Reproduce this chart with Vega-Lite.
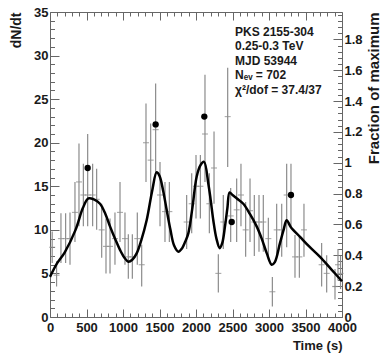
{
  "$schema": "https://vega.github.io/schema/vega-lite/v6.json",
  "width": 292,
  "height": 305,
  "autosize": "none",
  "padding": {"left": 50, "top": 12, "right": 40, "bottom": 39},
  "background": "white",
  "config": {
    "view": {"stroke": null},
    "axis": {
      "labelFont": "Liberation Sans", "labelFontWeight": "bold", "labelFontSize": 13, "labelColor": "#1a1a1a",
      "titleFont": "Liberation Sans", "titleFontWeight": "bold", "titleFontSize": 13, "titleColor": "#1a1a1a",
      "domainColor": "#666", "tickColor": "#666", "grid": false, "labelOverlap": false, "labelFlush": false
    }
  },
  "datasets": {
    "bins": [
      {"t": 30, "v": 8.0, "lo": 6.2, "hi": 9.8},
      {"t": 90, "v": 4.8, "lo": 3.5, "hi": 6.4},
      {"t": 150, "v": 9.0, "lo": 6.2, "hi": 11.9},
      {"t": 214, "v": 9.0, "lo": 6.2, "hi": 11.9},
      {"t": 274, "v": 9.0, "lo": 6.0, "hi": 12.0},
      {"t": 342, "v": 12.0, "lo": 8.6, "hi": 15.5},
      {"t": 397, "v": 15.5, "lo": 10.4, "hi": 19.9},
      {"t": 457, "v": 14.0, "lo": 10.4, "hi": 17.6},
      {"t": 516, "v": 14.0, "lo": 10.4, "hi": 21.0},
      {"t": 584, "v": 14.0, "lo": 10.4, "hi": 17.6},
      {"t": 639, "v": 13.5, "lo": 10.0, "hi": 17.0},
      {"t": 708, "v": 10.0, "lo": 6.8, "hi": 13.0},
      {"t": 767, "v": 8.1, "lo": 5.0, "hi": 11.3},
      {"t": 822, "v": 8.1, "lo": 5.0, "hi": 11.3},
      {"t": 890, "v": 9.0, "lo": 6.0, "hi": 12.0},
      {"t": 959, "v": 12.0, "lo": 8.6, "hi": 15.5},
      {"t": 1027, "v": 9.0, "lo": 6.0, "hi": 12.0},
      {"t": 1073, "v": 6.9, "lo": 4.4, "hi": 9.5},
      {"t": 1128, "v": 6.9, "lo": 4.4, "hi": 9.5},
      {"t": 1196, "v": 9.0, "lo": 6.0, "hi": 12.0},
      {"t": 1256, "v": 6.0, "lo": 3.5, "hi": 8.3},
      {"t": 1315, "v": 20.0, "lo": 15.5, "hi": 24.5},
      {"t": 1379, "v": 18.0, "lo": 13.5, "hi": 22.2},
      {"t": 1447, "v": 21.5, "lo": 16.5, "hi": 26.8},
      {"t": 1507, "v": 14.0, "lo": 10.4, "hi": 17.8},
      {"t": 1575, "v": 12.1, "lo": 8.6, "hi": 15.5},
      {"t": 1635, "v": 12.1, "lo": 8.6, "hi": 15.5},
      {"t": 1872, "v": 10.9, "lo": 7.8, "hi": 14.0},
      {"t": 1941, "v": 13.0, "lo": 9.6, "hi": 16.5},
      {"t": 2000, "v": 15.0, "lo": 11.3, "hi": 18.6},
      {"t": 2060, "v": 15.0, "lo": 11.3, "hi": 18.6},
      {"t": 2123, "v": 21.0, "lo": 15.5, "hi": 27.8},
      {"t": 2183, "v": 13.0, "lo": 9.6, "hi": 16.5},
      {"t": 2247, "v": 17.1, "lo": 13.0, "hi": 21.3},
      {"t": 2306, "v": 5.0, "lo": 2.8, "hi": 7.2},
      {"t": 2374, "v": 10.9, "lo": 7.8, "hi": 14.0},
      {"t": 2434, "v": 23.0, "lo": 17.2, "hi": 28.6},
      {"t": 2475, "v": 11.6, "lo": 8.6, "hi": 14.8},
      {"t": 2557, "v": 12.3, "lo": 8.6, "hi": 15.9},
      {"t": 2616, "v": 14.0, "lo": 10.4, "hi": 17.6},
      {"t": 2680, "v": 10.0, "lo": 6.9, "hi": 13.2},
      {"t": 2740, "v": 12.2, "lo": 8.6, "hi": 15.9},
      {"t": 2799, "v": 10.9, "lo": 7.0, "hi": 14.0},
      {"t": 2863, "v": 10.9, "lo": 7.5, "hi": 14.0},
      {"t": 2922, "v": 10.9, "lo": 7.5, "hi": 14.0},
      {"t": 2991, "v": 9.0, "lo": 6.6, "hi": 11.4},
      {"t": 3046, "v": 2.9, "lo": 1.2, "hi": 4.6},
      {"t": 3105, "v": 10.0, "lo": 6.9, "hi": 13.0},
      {"t": 3174, "v": 10.0, "lo": 6.9, "hi": 13.0},
      {"t": 3242, "v": 14.0, "lo": 8.0, "hi": 17.6},
      {"t": 3301, "v": 14.0, "lo": 10.4, "hi": 17.6},
      {"t": 3356, "v": 6.9, "lo": 4.5, "hi": 9.4},
      {"t": 3416, "v": 6.9, "lo": 4.5, "hi": 9.4},
      {"t": 3479, "v": 10.0, "lo": 6.9, "hi": 13.0},
      {"t": 3721, "v": 6.0, "lo": 3.5, "hi": 8.5},
      {"t": 3790, "v": 5.0, "lo": 2.8, "hi": 7.1},
      {"t": 3904, "v": 3.5, "lo": 2.0, "hi": 5.5},
      {"t": 3945, "v": 6.0, "lo": 4.2, "hi": 7.8},
      {"t": 3980, "v": 5.0, "lo": 3.2, "hi": 7.0}
    ],
    "curve": [
      {"t": 0, "v": 4.6}, {"t": 100, "v": 6.2}, {"t": 200, "v": 7.4}, {"t": 350, "v": 10.0},
      {"t": 450, "v": 12.5}, {"t": 525, "v": 13.6}, {"t": 600, "v": 13.5}, {"t": 685, "v": 13.0},
      {"t": 760, "v": 11.8}, {"t": 822, "v": 10.4}, {"t": 900, "v": 8.8}, {"t": 959, "v": 7.7},
      {"t": 1020, "v": 6.8}, {"t": 1073, "v": 6.35}, {"t": 1130, "v": 6.6}, {"t": 1187, "v": 7.3},
      {"t": 1250, "v": 8.8}, {"t": 1324, "v": 11.1}, {"t": 1400, "v": 14.5}, {"t": 1461, "v": 16.6},
      {"t": 1500, "v": 16.2}, {"t": 1550, "v": 14.5}, {"t": 1598, "v": 12.3}, {"t": 1650, "v": 10.0},
      {"t": 1700, "v": 8.2}, {"t": 1758, "v": 7.5}, {"t": 1810, "v": 7.9}, {"t": 1850, "v": 8.6},
      {"t": 1895, "v": 9.6}, {"t": 1950, "v": 12.5}, {"t": 2009, "v": 16.1}, {"t": 2060, "v": 17.4},
      {"t": 2110, "v": 17.8}, {"t": 2169, "v": 15.3}, {"t": 2200, "v": 13.5}, {"t": 2237, "v": 11.1},
      {"t": 2280, "v": 9.0}, {"t": 2325, "v": 7.9}, {"t": 2360, "v": 8.5}, {"t": 2397, "v": 10.4},
      {"t": 2430, "v": 12.5}, {"t": 2460, "v": 14.3}, {"t": 2500, "v": 14.0}, {"t": 2560, "v": 13.6},
      {"t": 2648, "v": 13.0}, {"t": 2740, "v": 11.8}, {"t": 2831, "v": 10.4}, {"t": 2900, "v": 9.0},
      {"t": 2970, "v": 7.3}, {"t": 3037, "v": 6.0}, {"t": 3080, "v": 6.3}, {"t": 3151, "v": 8.5},
      {"t": 3200, "v": 10.0}, {"t": 3242, "v": 11.1}, {"t": 3300, "v": 10.3}, {"t": 3425, "v": 9.2},
      {"t": 3550, "v": 8.1}, {"t": 3699, "v": 6.9}, {"t": 3850, "v": 5.5}, {"t": 4000, "v": 4.1}
    ],
    "dots": [
      {"t": 516, "v": 17.1}, {"t": 1447, "v": 22.1}, {"t": 2114, "v": 23.0}, {"t": 2489, "v": 10.9}, {"t": 3301, "v": 14.0}
    ]
  },
  "layer": [
    {
      "data": {"name": "bins"},
      "mark": {"type": "rule", "color": "#8c8c8c", "strokeWidth": 1.2},
      "encoding": {
        "x": {
          "field": "t", "type": "quantitative",
          "scale": {"domain": [0, 4000], "nice": false, "zero": false},
          "axis": {
            "orient": "bottom", "format": "d",
            "values": [0,100,200,300,400,500,600,700,800,900,1000,1100,1200,1300,1400,1500,1600,1700,1800,1900,2000,2100,2200,2300,2400,2500,2600,2700,2800,2900,3000,3100,3200,3300,3400,3500,3600,3700,3800,3900,4000],
            "labelExpr": "datum.value % 500 === 0 ? datum.label : ''",
            "tickSize": {"condition": {"test": "datum.value % 500 === 0", "value": -8}, "value": -4},
            "labelPadding": 12,
            "title": "Time (s)", "titleAnchor": "end", "titleAlign": "right", "titleY": 32, "titleBaseline": "alphabetic"
          }
        },
        "y": {
          "field": "lo", "type": "quantitative",
          "scale": {"domain": [0, 35], "nice": false},
          "axis": {
            "orient": "left",
            "values": [0,1,2,3,4,5,6,7,8,9,10,11,12,13,14,15,16,17,18,19,20,21,22,23,24,25,26,27,28,29,30,31,32,33,34,35],
            "labelExpr": "datum.value % 5 === 0 ? datum.label : ''",
            "tickSize": {"condition": {"test": "datum.value % 5 === 0", "value": -9}, "value": -4.5},
            "labelPadding": 11,
            "title": "dN/dt", "titleFontSize": 14, "titleAnchor": "end", "titleAlign": "right", "titleAngle": 270, "titleX": -34, "titleY": 0, "titleBaseline": "middle"
          }
        },
        "y2": {"field": "hi"}
      }
    },
    {
      "data": {"name": "bins"},
      "mark": {"type": "tick", "orient": "horizontal", "size": 6, "thickness": 1.2, "color": "#8c8c8c"},
      "encoding": {
        "x": {"field": "t", "type": "quantitative", "scale": {"domain": [0, 4000], "nice": false, "zero": false}, "axis": null},
        "y": {"field": "v", "type": "quantitative", "scale": {"domain": [0, 35], "nice": false}, "axis": null}
      }
    },
    {
      "data": {"name": "curve"},
      "mark": {"type": "line", "color": "black", "strokeWidth": 2.5, "interpolate": "catmull-rom"},
      "encoding": {
        "x": {"field": "t", "type": "quantitative", "scale": {"domain": [0, 4000], "nice": false, "zero": false}, "axis": null},
        "y": {"field": "v", "type": "quantitative", "scale": {"domain": [0, 35], "nice": false}, "axis": null}
      }
    },
    {
      "data": {"name": "dots"},
      "mark": {"type": "point", "filled": true, "color": "black", "size": 40, "opacity": 1},
      "encoding": {
        "x": {"field": "t", "type": "quantitative", "scale": {"domain": [0, 4000], "nice": false, "zero": false}, "axis": null},
        "y": {"field": "v", "type": "quantitative", "scale": {"domain": [0, 35], "nice": false}, "axis": null}
      }
    },
    {
      "data": {"values": [{}]},
      "mark": {
        "type": "text",
        "text": ["PKS 2155-304", "0.25-0.3 TeV", "MJD 53944", "Nₑᵥ = 702", "χ²/dof = 37.4/37"],
        "font": "Liberation Sans", "fontWeight": "bold", "fontSize": 12, "lineHeight": 14.5,
        "align": "left", "baseline": "top", "color": "#1a1a1a"
      },
      "encoding": {
        "x": {"datum": 2534, "type": "quantitative", "scale": {"domain": [0, 4000], "nice": false, "zero": false}, "axis": null},
        "y": {"datum": 33.3, "type": "quantitative", "scale": {"domain": [0, 35], "nice": false}, "axis": null}
      }
    },
    {
      "data": {"name": "dots"},
      "mark": {"type": "point", "opacity": 0},
      "encoding": {
        "x": {
          "field": "t", "type": "quantitative",
          "scale": {"domain": [0, 4000], "nice": false, "zero": false},
          "axis": {
            "orient": "top", "labels": false, "title": null,
            "values": [0,100,200,300,400,500,600,700,800,900,1000,1100,1200,1300,1400,1500,1600,1700,1800,1900,2000,2100,2200,2300,2400,2500,2600,2700,2800,2900,3000,3100,3200,3300,3400,3500,3600,3700,3800,3900,4000],
            "tickSize": {"condition": {"test": "datum.value % 500 === 0", "value": -8}, "value": -4}
          }
        },
        "y": {
          "field": "v", "type": "quantitative",
          "scale": {"domain": [0, 35], "nice": false},
          "axis": {
            "orient": "right",
            "values": [0,0.708,1.416,2.124,2.832,3.54,4.248,4.956,5.664,6.372,7.08,7.788,8.496,9.204,9.912,10.62,11.328,12.036,12.744,13.452,14.16,14.868,15.576,16.284,16.992,17.7,18.408,19.116,19.824,20.532,21.24,21.948,22.656,23.364,24.072,24.78,25.488,26.196,26.904,27.612,28.32,29.028,29.736,30.444,31.152,31.86,32.568,33.276,33.984,34.692],
            "labelExpr": "round(datum.value / 0.708) % 5 === 0 ? format(round(datum.value / 0.708) * 0.04, '.1~f') : ''",
            "tickSize": {"condition": {"test": "round(datum.value / 0.708) % 5 === 0", "value": -9}, "value": -4.5},
            "labelPadding": 11,
            "title": "Fraction of maximum", "titleFontSize": 15, "titleAnchor": "end", "titleAlign": "right", "titleAngle": 270, "titleX": 31, "titleY": 0, "titleBaseline": "middle"
          }
        }
      }
    }
  ],
  "resolve": {"axis": {"x": "independent", "y": "independent"}}
}
